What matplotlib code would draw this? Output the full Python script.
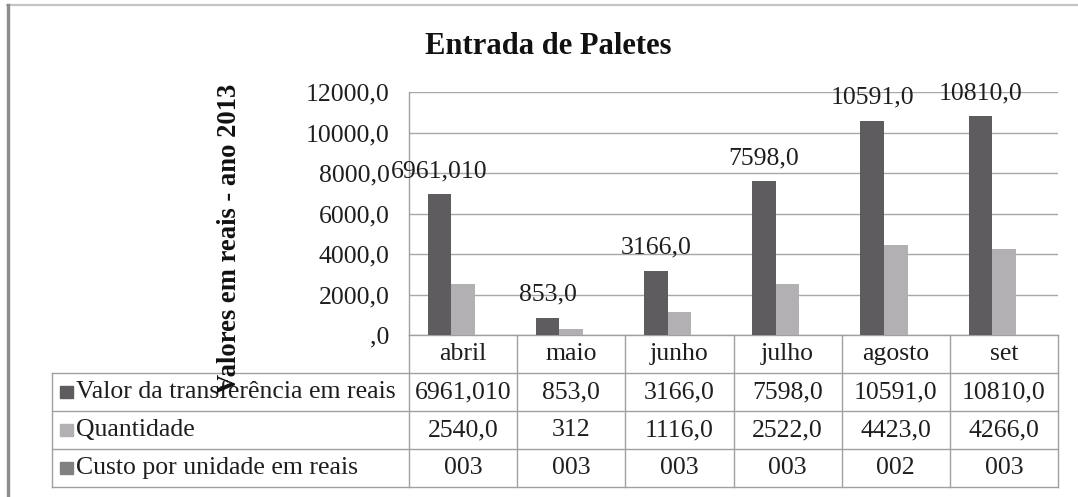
import matplotlib
matplotlib.use("Agg")
import matplotlib.pyplot as plt
from matplotlib.lines import Line2D
from matplotlib.patches import Rectangle
import numpy as np

# ---------------- data ----------------
months = ["abril", "maio", "junho", "julho", "agosto", "set"]
series_names = ["Valor da transferência em reais", "Quantidade",
                "Custo por unidade em reais"]
valor = [6961.010, 853.0, 3166.0, 7598.0, 10591.0, 10810.0]
quantidade = [2540.0, 312.0, 1116.0, 2522.0, 4423.0, 4266.0]
custo = [3, 3, 3, 3, 2, 3]
valor_text = ["6961,010", "853,0", "3166,0", "7598,0", "10591,0", "10810,0"]
quantidade_text = ["2540,0", "312", "1116,0", "2522,0", "4423,0", "4266,0"]
custo_text = ["003", "003", "003", "003", "002", "003"]
yticks = [0, 2000, 4000, 6000, 8000, 10000, 12000]
ytick_labels = [",0", "2000,0", "4000,0", "6000,0", "8000,0", "10000,0", "12000,0"]
title = "Entrada de Paletes"
ylabel = "Valores em reais - ano 2013"

# ---------------- style ----------------
W, H = 1078, 497
FONT = ["Liberation Serif", "DejaVu Serif"]
colors = ["#5f5c60", "#b2b0b3", "#808080"]
grid_c = "#a8a8a8"
line_c = "#a0a0a0"
txt_c = "#1e1e1e"
fs = 18.5

plt.rcParams["font.family"] = FONT

fig = plt.figure(figsize=(W / 100, H / 100), dpi=100)
fig.patch.set_facecolor("white")

# overlay axes in pixel coordinates
bg = fig.add_axes([0, 0, 1, 1], zorder=0)
bg.set_xlim(0, W)
bg.set_ylim(H, 0)
bg.axis("off")

# outer chart frame
bg.add_line(Line2D([7, W], [5, 5], color="#c4c4c4", lw=1.6))
bg.add_line(Line2D([8, 8], [5, H], color="#8c8c8c", lw=2.4))

# main plot axes
ax_left, ax_right, ax_top, ax_bottom = 409, 1058, 92, 335
ax = fig.add_axes([ax_left / W, (H - ax_bottom) / H,
                   (ax_right - ax_left) / W, (ax_bottom - ax_top) / H], zorder=2)
ax.patch.set_alpha(0)
x = np.arange(len(months))
ax.set_xlim(-0.5, len(months) - 0.5)
ax.set_ylim(0, 12000)
ax.set_yticks(yticks)
ax.set_yticklabels(ytick_labels)
ax.set_xticks([])
ax.tick_params(axis="y", length=0, pad=14, labelsize=fs, labelcolor=txt_c)
for s in ["top", "right", "bottom"]:
    ax.spines[s].set_visible(False)
ax.spines["left"].set_color(line_c)
ax.spines["left"].set_linewidth(1.0)
ax.yaxis.grid(True, color=grid_c, lw=1.0)
ax.set_axisbelow(True)

bw = 0.2176
for k, vals in enumerate([valor, quantidade, custo]):
    ax.bar(x + (k - 1) * bw, vals, bw, color=colors[k], zorder=3)

for xi, v, t in zip(x, valor, valor_text):
    ax.annotate(t, (xi - bw, v), xytext=(0, 23), textcoords="offset pixels",
                ha="center", va="center", fontsize=fs, color=txt_c, zorder=4)

# title and y label
bg.text(548, 47, title, ha="center", va="center", fontsize=22, fontweight="bold",
        color="#111111")
bg.text(229, 238, ylabel, ha="center", va="center", rotation=90, fontsize=19.2,
        fontweight="bold", color="#111111", zorder=5)

# ---------------- data table ----------------
fig.canvas.draw()
to_px = lambda xd: bg.transData.inverted().transform(ax.transData.transform((xd, 0)))[0]
edges = [to_px(e) for e in np.arange(-0.5, len(months), 1.0)]
centers = [to_px(c) for c in x]
row_h = 38
tbl_left = 52
rows = [ax_bottom + i * row_h for i in range(5)]

# horizontal lines
bg.add_line(Line2D([edges[0], edges[-1]], [rows[0], rows[0]], color=line_c, lw=1.0))
for ry in rows[1:]:
    bg.add_line(Line2D([tbl_left, edges[-1]], [ry, ry], color=line_c, lw=1.0))
# vertical lines
for ex in edges:
    bg.add_line(Line2D([ex, ex], [rows[0], rows[-1]], color=line_c, lw=1.0))
bg.add_line(Line2D([tbl_left, tbl_left], [rows[1], rows[-1]], color=line_c, lw=1.0))

# header (months)
for cx, m in zip(centers, months):
    bg.text(cx, (rows[0] + rows[1]) / 2, m, ha="center", va="center",
            fontsize=fs, color=txt_c)

table_text = [valor_text, quantidade_text, custo_text]
for r, (name, vals) in enumerate(zip(series_names, table_text)):
    yc = (rows[r + 1] + rows[r + 2]) / 2
    bg.add_patch(Rectangle((60, yc - 6), 13, 12, color=colors[r]))
    bg.text(76, yc, name, ha="left", va="center", fontsize=fs, color=txt_c)
    for cx, t in zip(centers, vals):
        bg.text(cx, yc, t, ha="center", va="center", fontsize=fs, color=txt_c)

fig.savefig("out.png", dpi=100, facecolor="white")
